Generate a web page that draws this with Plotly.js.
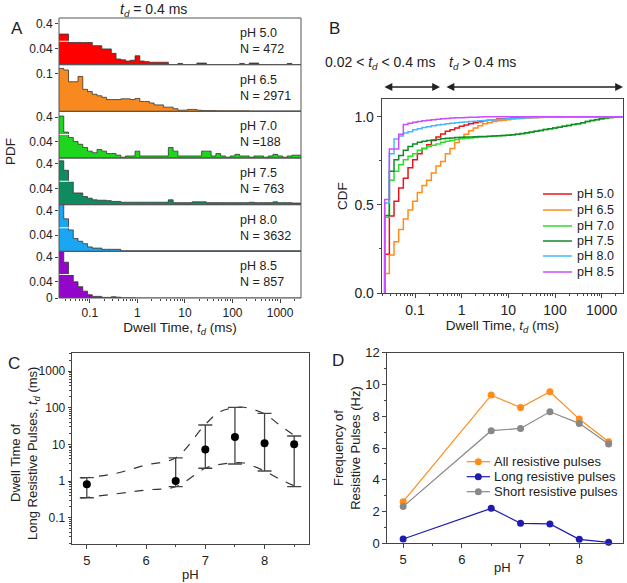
<!DOCTYPE html>
<html><head><meta charset="utf-8">
<script src="https://cdn.plot.ly/plotly-3.0.1.min.js"></script>
<style>html,body{margin:0;padding:0;background:#fff}#chart{width:627px;height:583px}</style>
</head><body><div id="chart"></div>
<script>
// ================= DATA =================
// Panel A: log-spaced histogram bin edges (ms) and PDF heights
const binEdges = [0.02239,0.02818,0.03548,0.04467,0.05623,0.07079,0.08913,0.1122,0.1413,0.1778,
  0.2239,0.2818,0.3548,0.4467,0.5623,0.7079,0.8913,1.122,1.413,1.778,
  2.239,2.818,3.548,4.467,5.623,7.079,8.913,11.22,14.13,17.78,
  22.39,28.18,35.48,44.67,56.23,70.79,89.13,112.2,141.3,177.8,
  223.9,281.8,354.8,446.7,562.3,707.9,891.3,1122,1413,1778,2239,2818];
const pdf_pH50 = [0.29,0.29,0.055,0.055,0.055,0.055,0.055,0.047,0.047,0.039,
  0.039,0.028,0.014,0.012,0.009,0.011,0.022,0.009,0.0075,0.006,
  0.006,0.006,0.006,0,0,0.003,0,0,0,0.004,
  0.004,0,0,0,0,0,0,0,0.003,0,
  0.004,0.004,0,0,0,0,0,0,0.003,0,0];
const pdf_pH65 = [0.113,0.109,0.078,0.078,0.092,0.058,0.052,0.045,0.041,0.037,
  0.031,0.031,0.031,0.033,0.033,0.031,0.034,0.026,0.026,0.022,
  0.017,0.017,0.011,0.011,0.007,0.003,0.003,0.005,0.005,0.003,
  0.002,0.002,0.002,0.0015,0.0015,0.0015,0.0015,0.0015,0.0015,0.0015,
  0.001,0.001,0.001,0.001,0.001,0.001,0.001,0.001,0.001,0.001,0.001];
const pdf_pH70 = [0.41,0.24,0.051,0.041,0.034,0.026,0.017,0.013,0.021,0.017,
  0.011,0.011,0.007,0.002,0.005,0.005,0.017,0.005,0.005,0.005,
  0.005,0.005,0.005,0.026,0.017,0.005,0.005,0.005,0.005,0.005,
  0.017,0.017,0.005,0.011,0.005,0.002,0.005,0.009,0.005,0.005,
  0.002,0.005,0.005,0.002,0.005,0.009,0.005,0.002,0.005,0.007,0.007];
const pdf_pH75 = [0.43,0.33,0.057,0.029,0.029,0.020,0.016,0.012,0.011,0.011,
  0.010,0.008,0.008,0.006,0.006,0.006,0.006,0.006,0.006,0.006,
  0.006,0.006,0.006,0.012,0.005,0.005,0.005,0.005,0.007,0.007,
  0.007,0.005,0.005,0.005,0.005,0.005,0.005,0.005,0.005,0.005,
  0.006,0.005,0.005,0.005,0.005,0.007,0.005,0.005,0.005,0.004,0.004];
const pdf_pH80 = [0.5,0.31,0.053,0.032,0.025,0.019,0.011,0.008,0.008,0.005,
  0.005,0.005,0.005,0.0015,0.0015,0.0015,0.0015,0.0015,0.0015,0.0015,
  0.0015,0.0015,0.0015,0.0015,0.0015,0.0015,0.0015,0.0015,0.0015,0.0015,
  0.0015,0.0015,0.0015,0.0015,0.0015,0.0015,0.0015,0.0015,0.0015,0.0015,
  0.0015,0.0015,0.0015,0.0015,0.0015,0.0015,0.0015,0.0015,0.0015,0.0015,0.0015];
const pdf_pH85 = [0.5,0.345,0.057,0.04,0.028,0.017,0.008,0.004,0.004,0.0015,
  0.0015,0.003,0.002,0.0005,0.0005,0.0005,0,0,0,0,
  0,0,0,0,0,0,0,0,0,0,
  0,0,0,0,0,0,0,0,0,0,
  0,0,0,0,0,0,0,0,0,0,0];
const histLabels = ['pH 5.0','pH 6.5','pH 7.0','pH 7.5','pH 8.0','pH 8.5'];
const histN = ['N = 472','N = 2971','N =188','N = 763','N = 3632','N = 857'];
const tdCut = 0.4;
const aTickVals = [0.1, 1, 10, 100, 1000];
const aTickText = ['0.1','1','10','100','1000'];

// Panel B: cumulative distributions, one value per histogram bin (after each edge)
const cdf_pH50 = [0.22,0.437,0.52,0.595,0.65,0.71,0.755,0.79,0.82,0.84,
  0.864,0.885,0.902,0.917,0.926,0.936,0.945,0.952,0.96,0.966,
  0.971,0.976,0.98,0.983,0.986,0.988,0.99,0.992,0.993,0.994,
  0.995,0.996,0.997,0.997,0.998,0.998,0.999,0.999,0.999,0.999,
  1,1,1,1,1,1,1,1,1,1,1];
const cdf_pH65 = [0.11,0.216,0.29,0.36,0.42,0.47,0.52,0.57,0.61,0.64,
  0.68,0.72,0.745,0.79,0.82,0.854,0.88,0.90,0.92,0.935,
  0.948,0.96,0.966,0.973,0.977,0.98,0.983,0.986,0.988,0.99,
  0.992,0.993,0.994,0.995,0.996,0.997,0.998,0.998,0.999,0.999,
  1,1,1,1,1,1,1,1,1,1,1];
const cdf_pH70 = [0.43,0.64,0.69,0.727,0.755,0.775,0.79,0.81,0.82,0.83,
  0.838,0.845,0.855,0.86,0.865,0.87,0.875,0.877,0.879,0.881,
  0.884,0.886,0.888,0.89,0.892,0.893,0.895,0.897,0.90,0.903,
  0.907,0.912,0.917,0.922,0.927,0.931,0.935,0.94,0.945,0.95,
  0.955,0.96,0.965,0.972,0.978,0.984,0.988,0.992,0.995,0.998,1];
const cdf_pH75 = [0.44,0.69,0.755,0.78,0.81,0.83,0.845,0.855,0.86,0.865,
  0.868,0.871,0.875,0.877,0.879,0.881,0.883,0.884,0.885,0.886,
  0.887,0.888,0.889,0.89,0.891,0.893,0.895,0.897,0.90,0.904,
  0.908,0.913,0.917,0.922,0.927,0.931,0.935,0.94,0.945,0.95,
  0.955,0.96,0.965,0.972,0.978,0.983,0.988,0.992,0.995,0.998,1];
const cdf_pH80 = [0.51,0.79,0.873,0.89,0.907,0.915,0.926,0.932,0.938,0.943,
  0.948,0.952,0.956,0.96,0.963,0.966,0.968,0.97,0.972,0.974,
  0.976,0.978,0.98,0.982,0.984,0.986,0.988,0.99,0.991,0.992,
  0.993,0.994,0.995,0.996,0.997,0.998,0.998,0.999,0.999,1,
  1,1,1,1,1,1,1,1,1,1,1];
const cdf_pH85 = [0.53,0.816,0.816,0.90,0.955,0.962,0.968,0.972,0.976,0.979,
  0.982,0.985,0.988,0.99,0.992,0.993,0.994,0.995,0.996,0.997,
  0.998,0.999,0.999,1,1,1,1,1,1,1,
  1,1,1,1,1,1,1,1,1,1,
  1,1,1,1,1,1,1,1,1,1,1];
const cdfLabels = ['pH 5.0','pH 6.5','pH 7.0','pH 7.5','pH 8.0','pH 8.5'];

// Panel C: dwell time of long resistive pulses
const pHc = [5, 6.5, 7, 7.5, 8, 8.5];
const dwellMean  = [0.82, 1.0, 7.3, 15.9, 10.7, 10.0];
const dwellUpper = [1.24, 4.3, 33.8, 102, 70, 16.9];
const dwellLower = [0.35, 0.70, 2.23, 2.92, 1.88, 0.70];
const envPH    = [4.9, 5.5, 6.0, 6.5, 7.0, 7.25, 7.5, 7.65, 8.0, 8.25, 8.55];
const envUpper = [1.19, 1.63, 2.75, 4.3, 35, 78, 100, 103, 68, 34, 15.5];
const envLower = [0.34, 0.45, 0.57, 0.70, 2.23, 2.85, 3.15, 3.1, 1.88, 1.14, 0.68];

// Panel D: frequency of resistive pulses (Hz)
const pHd = [5, 6.5, 7, 7.5, 8, 8.5];
const freqAll   = [2.62, 9.33, 8.55, 9.54, 7.82, 6.39];
const freqLong  = [0.27, 2.2, 1.26, 1.22, 0.25, 0.06];
const freqShort = [2.31, 7.09, 7.23, 8.28, 7.55, 6.25];
const freqNames = ['All resistive pulses','Long resistive pulses','Short resistive pulses'];

// ================= STYLE / LAYOUT =================
const W = 627, H = 583;
const fx = p => p / W, fy = p => 1 - p / H;
const FONT = 'Arial, "Liberation Sans", Helvetica, sans-serif';
const histColors = ['#ff0000','#f7891e','#1fd61f','#0f8c5f','#1aa6f2','#9205c9'];
const cdfColors  = ['#e8141a','#ff8c1a','#2edb2e','#138a2a','#45b8ff','#cc4dff'];
const freqColors = ['#ff8c1a','#1c1cb0','#888888'];
const TD = '<i>t<sub>d</sub></i>';

const traces = [], shapes = [], annotations = [];
const layout = {
  width: W, height: H, margin: {l:0, r:0, t:0, b:0},
  paper_bgcolor: '#fff', plot_bgcolor: '#fff',
  font: {family: FONT, size: 12, color: '#222'},
  showlegend: false
};
// text helper: centered unless told otherwise
const txt = (x, y, text, size, extra) => annotations.push(Object.assign({
  xref: 'paper', yref: 'paper', x: fx(x), y: fy(y), text: text, showarrow: false,
  xanchor: 'center', yanchor: 'middle', font: {size: size}}, extra || {}));

// ---------- Panel A ----------
const A = {left: 59, right: 301, top: 18, bottom: 298};
const pH_ = (A.bottom - A.top) / 6;
const histData = [pdf_pH50, pdf_pH65, pdf_pH70, pdf_pH75, pdf_pH80, pdf_pH85];
const broken = [true, false, true, true, true, true];
let yIdx = 1, bottomAxis = 'y';
histData.forEach((h, i) => {
  const top = A.top + i * pH_, bot = top + pH_;
  const xs = binEdges.slice(0, h.length + 1);
  const ys = h.concat([h[h.length - 1]]);
  const segs = broken[i] ? [
    {dom: [fy(bot), fy(bot - 23)], range: [0, 0.057],
     tv: i === 5 ? [0, 0.04] : [0.04], tt: i === 5 ? ['0', '0.04'] : ['0.04'], low: true},
    {dom: [fy(bot - 24), fy(top)], range: [0.22, 0.46], tv: [0.4], tt: ['0.4']}
  ] : [{dom: [fy(bot), fy(top)], range: [0, 0.123], tv: [0.1], tt: ['0.1'], low: true}];
  segs.forEach(s => {
    const id = yIdx === 1 ? 'y' : 'y' + yIdx;
    const key = yIdx === 1 ? 'yaxis' : 'yaxis' + yIdx;
    layout[key] = {domain: s.dom, range: s.range, anchor: 'x', tickvals: s.tv, ticktext: s.tt,
      ticks: 'outside', ticklen: 3, tickcolor: '#444', showgrid: false, zeroline: false,
      showline: false, tickfont: {size: 12}};
    traces.push({type: 'scatter', mode: 'lines', x: xs, y: ys, xaxis: 'x', yaxis: id,
      line: {shape: 'hv', color: '#333', width: 0.8}, fill: 'tozeroy', fillcolor: histColors[i],
      hoverinfo: 'skip', showlegend: false});
    if (i === 5 && s.low) bottomAxis = id;
    yIdx++;
  });
  shapes.push({type: 'rect', xref: 'paper', yref: 'paper', x0: fx(A.left), x1: fx(A.right),
    y0: fy(bot), y1: fy(top), line: {color: '#555', width: 1}, fillcolor: 'rgba(0,0,0,0)'});
  txt(238, top + 15, histLabels[i], 12.5, {xanchor: 'left'});
  txt(238, top + 31, histN[i], 12.5, {xanchor: 'left'});
});
layout.xaxis = {domain: [fx(A.left), fx(A.right)], anchor: bottomAxis, type: 'log', range: [-1.65, 3.44],
  tickvals: aTickVals, ticktext: aTickText, ticks: 'outside', ticklen: 4, tickcolor: '#444',
  minor: {ticks: 'outside', ticklen: 2, dtick: 'D1', tickcolor: '#444', showgrid: false},
  showgrid: false, zeroline: false, showline: false, tickfont: {size: 12},
  title: {text: 'Dwell Time, ' + TD + ' (ms)', font: {size: 13.5}, standoff: 2}};
shapes.push({type: 'line', xref: 'x', yref: 'paper', x0: Math.log10(tdCut), x1: Math.log10(tdCut),
  y0: fy(A.bottom), y1: fy(A.top), line: {color: '#222', width: 1, dash: 'dash'}});
txt(118, 9.5, TD + ' = 0.4 ms', 14, {xanchor: 'left'});
txt(10, 152, 'PDF', 13.5, {textangle: -90});

// ---------- Panel B ----------
const cdfData = [cdf_pH50, cdf_pH65, cdf_pH70, cdf_pH75, cdf_pH80, cdf_pH85];
cdfData.forEach((c, i) => {
  const xs = [binEdges[0]].concat(binEdges.slice(0, c.length + 1));
  const ys = [0].concat(c, [c[c.length - 1]]);
  traces.push({type: 'scatter', mode: 'lines', x: xs, y: ys, xaxis: 'x2', yaxis: 'y12',
    line: {shape: 'hv', color: cdfColors[i], width: 1.5}, name: cdfLabels[i], hoverinfo: 'skip'});
});
layout.xaxis2 = {domain: [fx(381.7), fx(623)], anchor: 'y12', type: 'log', range: [-1.714, 3.457],
  tickvals: aTickVals, ticktext: aTickText, ticks: 'outside', ticklen: 4, tickcolor: '#444',
  minor: {ticks: 'outside', ticklen: 2, dtick: 'D1', tickcolor: '#444', showgrid: false},
  showgrid: false, zeroline: false, showline: true, mirror: true, linecolor: '#444', linewidth: 1,
  tickfont: {size: 14},
  title: {text: 'Dwell Time, ' + TD + ' (ms)', font: {size: 13.5}, standoff: 2}};
layout.yaxis12 = {domain: [fy(293), fy(99)], anchor: 'x2', range: [0, 1.1],
  tickvals: [0, 0.5, 1], ticktext: ['0.0', '0.5', '1.0'], ticks: 'outside', ticklen: 4, tickcolor: '#444',
  minor: {ticks: 'outside', ticklen: 2, dtick: 0.25, tickcolor: '#444', showgrid: false},
  showgrid: false, zeroline: false, showline: true, mirror: true, linecolor: '#444', linewidth: 1,
  tickfont: {size: 14}, title: {text: 'CDF', font: {size: 13.5}, standoff: 3}};
shapes.push({type: 'line', xref: 'x2', yref: 'paper', x0: Math.log10(tdCut), x1: Math.log10(tdCut),
  y0: fy(293), y1: fy(86), line: {color: '#222', width: 1.3, dash: 'dot'}});
annotations.push({xref: 'paper', yref: 'paper', x: fx(440), y: fy(87), ax: -57, ay: 0, axref: 'pixel', ayref: 'pixel',
  text: '', showarrow: true, arrowside: 'end+start', arrowhead: 2, startarrowhead: 2,
  arrowsize: 1.2, startarrowsize: 1.2, arrowwidth: 1.3, arrowcolor: '#222'});
annotations.push({xref: 'paper', yref: 'paper', x: fx(623), y: fy(87), ax: -178, ay: 0, axref: 'pixel', ayref: 'pixel',
  text: '', showarrow: true, arrowside: 'end+start', arrowhead: 2, startarrowhead: 2,
  arrowsize: 1.2, startarrowsize: 1.2, arrowwidth: 1.3, arrowcolor: '#222'});
txt(323, 63, '0.02 &lt; ' + TD + ' &lt; 0.4 ms', 14, {xanchor: 'left'});
txt(446.5, 63, TD + ' &gt; 0.4 ms', 14, {xanchor: 'left'});
// compact legend for B
const legB = [194, 210, 226, 241, 256, 272];
cdfLabels.forEach((lab, i) => {
  shapes.push({type: 'line', xref: 'paper', yref: 'paper', x0: fx(543), x1: fx(572),
    y0: fy(legB[i]), y1: fy(legB[i]), line: {color: cdfColors[i], width: 1.5}});
  txt(575, legB[i], lab, 12.5, {xanchor: 'left'});
});

// ---------- Panel C ----------
traces.push({type: 'scatter', mode: 'lines', x: envPH, y: envUpper, xaxis: 'x3', yaxis: 'y13',
  line: {dash: 'dash', color: '#333', width: 1.2, shape: 'spline', smoothing: 1}, hoverinfo: 'skip'});
traces.push({type: 'scatter', mode: 'lines', x: envPH, y: envLower, xaxis: 'x3', yaxis: 'y13',
  line: {dash: 'dash', color: '#333', width: 1.2, shape: 'spline', smoothing: 1}, hoverinfo: 'skip'});
traces.push({type: 'scatter', mode: 'markers', x: pHc, y: dwellMean, xaxis: 'x3', yaxis: 'y13',
  marker: {size: 8, color: '#000'},
  error_y: {type: 'data', symmetric: false,
    array: dwellUpper.map((u, i) => u - dwellMean[i]),
    arrayminus: dwellMean.map((m, i) => m - dwellLower[i]),
    color: '#444', thickness: 1.3, width: 7}, hoverinfo: 'skip'});
layout.xaxis3 = {domain: [fx(71.7), fx(309)], anchor: 'y13', range: [4.745, 8.75],
  tickvals: [5, 6, 7, 8], ticks: 'outside', ticklen: 4, tickcolor: '#444',
  minor: {ticks: 'outside', ticklen: 2, dtick: 0.5, tick0: 5, tickcolor: '#444', showgrid: false},
  showgrid: false, zeroline: false, showline: true, mirror: true, linecolor: '#444',
  tickfont: {size: 13}, title: {text: 'pH', font: {size: 13}, standoff: 2}};
layout.yaxis13 = {domain: [fy(544.3), fy(352.7)], anchor: 'x3', type: 'log', range: [-1.725, 3.5],
  tickvals: [0.1, 1, 10, 100, 1000], ticktext: ['0.1', '1', '10', '100', '1000'],
  ticks: 'outside', ticklen: 3, tickcolor: '#444',
  minor: {ticks: 'outside', ticklen: 2, dtick: 'D1', tickcolor: '#444', showgrid: false},
  showgrid: false, zeroline: false, showline: true, mirror: true, linecolor: '#444',
  tickfont: {size: 12}};
txt(15, 463, 'Dwell Time of', 13, {textangle: -90});
txt(33, 454, 'Long Resistive Pulses, ' + TD + ' (ms)', 13, {textangle: -90});

// ---------- Panel D ----------
const freqData = [freqAll, freqLong, freqShort];
freqData.forEach((f, i) => {
  traces.push({type: 'scatter', mode: 'lines+markers', x: pHd, y: f, xaxis: 'x4', yaxis: 'y14',
    name: freqNames[i], line: {color: freqColors[i], width: 1.2},
    marker: {color: freqColors[i], size: 7}, hoverinfo: 'skip', cliponaxis: false});
});
layout.xaxis4 = {domain: [fx(387.3), fx(623.3)], anchor: 'y14', range: [4.73, 8.75],
  tickvals: [5, 6, 7, 8], ticks: 'outside', ticklen: 4, tickcolor: '#444',
  minor: {ticks: 'outside', ticklen: 2, dtick: 0.5, tick0: 5, tickcolor: '#444', showgrid: false},
  showgrid: false, zeroline: false, showline: true, mirror: true, linecolor: '#444',
  tickfont: {size: 13}};
txt(502, 567, 'pH', 13);
layout.yaxis14 = {domain: [fy(543.3), fy(352.7)], anchor: 'x4', range: [0, 12], dtick: 2,
  ticks: 'outside', ticklen: 4, tickcolor: '#444',
  minor: {ticks: 'outside', ticklen: 2, dtick: 1, tickcolor: '#444', showgrid: false},
  showgrid: false, zeroline: false, showline: true, mirror: true, linecolor: '#444',
  tickfont: {size: 13},
  title: {text: 'Frequency of<br>Resistive Pulses (Hz)', font: {size: 13}, standoff: 1}};
const legD = [461.7, 476.7, 491.7];
freqNames.forEach((n, i) => {
  shapes.push({type: 'line', xref: 'paper', yref: 'paper', x0: fx(466.7), x1: fx(490),
    y0: fy(legD[i]), y1: fy(legD[i]), line: {color: freqColors[i], width: 1.2}});
  shapes.push({type: 'circle', xref: 'paper', yref: 'paper', xsizemode: 'pixel', ysizemode: 'pixel',
    xanchor: fx(478.3), yanchor: fy(legD[i]), x0: -3.5, x1: 3.5, y0: -3.5, y1: 3.5,
    fillcolor: freqColors[i], line: {width: 0}});
  txt(491.7, legD[i], n, 13, {xanchor: 'left'});
});

// panel letters
txt(16.5, 28.5, 'A', 17);
txt(334, 28.5, 'B', 17);
txt(13.5, 363, 'C', 17);
txt(337.5, 360, 'D', 17);

layout.shapes = shapes;
layout.annotations = annotations;
Plotly.newPlot('chart', traces, layout, {staticPlot: true, displayModeBar: false});
</script>
</body></html>
